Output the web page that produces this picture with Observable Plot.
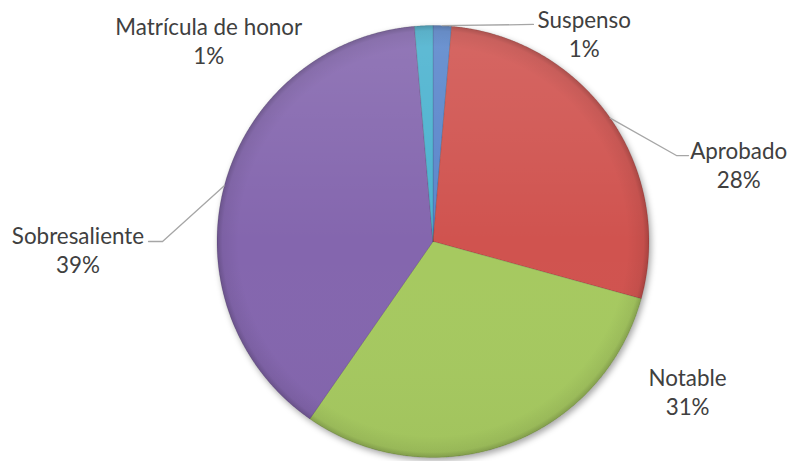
<!DOCTYPE html>
<html><head><meta charset="utf-8">
<script src="https://cdn.jsdelivr.net/npm/d3@7"></script>
<script src="https://cdn.jsdelivr.net/npm/@observablehq/plot@0.6"></script>
<style>html,body{margin:0;padding:0;background:#fff} svg{display:block}</style>
</head><body><div id="chart"></div>
<script>
// ---- data ----
const categories = ["Suspenso", "Aprobado", "Notable", "Sobresaliente", "Matrícula de honor"];
const values = [1.37, 27.9, 30.4, 38.97, 1.37];
const percentLabels = ["1%", "28%", "31%", "39%", "1%"];

// ---- styles / layout ----
const colors = ["#5a86cb", "#d0534f", "#a6c961", "#8466ae", "#4cb2cf"];
const W = 794, H = 461, CX = 432.5, CY = 241, R = 216;
// label block centre, polar: angle (deg clockwise from 12 o'clock), distance in pie radii
const labelPolar = [[35.95, 1.193], [75.73, 1.46], [120.43, 1.367], [268.82, 1.644], [311.86, 1.394]];
// leader line extra points (in pie-radius units, after the slice mid-edge point)
const leaderPath = {
  "Suspenso": [[0.465, 1.005]],
  "Aprobado": [[1.127, 0.398], [1.183, 0.398]],
  "Sobresaliente": [[-1.252, 0.0], [-1.317, 0.0]]
};

const arcs = d3.pie().sort(null).value(d => d)(values);

const slicePts = [];
arcs.forEach((a, i) => {
  const cat = categories[i];
  slicePts.push({cat, x: 0, y: 0});
  const n = Math.max(4, Math.ceil((a.endAngle - a.startAngle) / 0.005));
  for (let k = 0; k <= n; k++) {
    const t = a.startAngle + (a.endAngle - a.startAngle) * k / n;
    slicePts.push({cat, x: Math.sin(t), y: Math.cos(t)});
  }
  slicePts.push({cat, x: 0, y: 0});
});

const circlePts = d3.range(0, 361).map(d => ({x: Math.sin(d * Math.PI / 180), y: Math.cos(d * Math.PI / 180)}));

const leaderPts = [];
arcs.forEach((a, i) => {
  const cat = categories[i];
  if (!leaderPath[cat]) return;
  const m = (a.startAngle + a.endAngle) / 2;
  leaderPts.push({cat, x: Math.sin(m), y: Math.cos(m)});
  leaderPath[cat].forEach(([x, y]) => leaderPts.push({cat, x, y}));
});

const labels = categories.map((c, i) => {
  const [ang, r] = labelPolar[i];
  const t = ang * Math.PI / 180;
  return {cat: c, text: c + "\n" + percentLabels[i], x: r * Math.sin(t), y: r * Math.cos(t)};
});

const plot = Plot.plot({
  width: W, height: H,
  margin: 0,
  style: {background: "#fff", overflow: "visible"},
  x: {domain: [-CX / R, (W - CX) / R], range: [0, W], axis: null},
  y: {domain: [-(H - CY) / R, CY / R], range: [H, 0], axis: null},
  color: {domain: categories, range: colors},
  marks: [
    Plot.line(slicePts, {x: "x", y: "y", z: "cat", fill: "cat", stroke: "rgba(0,0,0,0.12)", strokeWidth: 1, curve: "linear"}),
    Plot.line(circlePts, {x: "x", y: "y", fill: "url(#shine)", stroke: "none"}),
    Plot.line(circlePts, {x: "x", y: "y", fill: "url(#rim)", stroke: "none"}),
    Plot.line(leaderPts, {x: "x", y: "y", z: "cat", stroke: "#a6a6a6", strokeWidth: 1.3}),
    Plot.text(labels, {x: "x", y: "y", text: "text", fontSize: 22.4, lineHeight: 29 / 22.4, fill: "#404040", fontFamily: "Lato, 'Open Sans', sans-serif"})
  ]
});

const svg = d3.select(plot);
const defs = svg.insert("defs", ":first-child");
const rg = defs.append("radialGradient").attr("id", "rim").attr("cx", "50%").attr("cy", "50%").attr("r", "50%");
rg.append("stop").attr("offset", "0.90").attr("stop-color", "#000").attr("stop-opacity", 0);
rg.append("stop").attr("offset", "0.975").attr("stop-color", "#000").attr("stop-opacity", 0.06);
rg.append("stop").attr("offset", "1").attr("stop-color", "#000").attr("stop-opacity", 0.2);
const lg = defs.append("linearGradient").attr("id", "shine").attr("x1", "0").attr("y1", "0").attr("x2", "0").attr("y2", "1");
lg.append("stop").attr("offset", "0").attr("stop-color", "#fff").attr("stop-opacity", 0.12);
lg.append("stop").attr("offset", "0.5").attr("stop-color", "#fff").attr("stop-opacity", 0.0);
lg.append("stop").attr("offset", "1").attr("stop-color", "#000").attr("stop-opacity", 0.03);
const f = defs.append("filter").attr("id", "shadow").attr("x", "-10%").attr("y", "-10%").attr("width", "130%").attr("height", "130%");
f.append("feDropShadow").attr("dx", 2).attr("dy", 3).attr("stdDeviation", 3).attr("flood-color", "#000").attr("flood-opacity", 0.35);
svg.select('g[aria-label="line"]').attr("filter", "url(#shadow)");

document.getElementById("chart").appendChild(plot);
</script>
</body></html>
